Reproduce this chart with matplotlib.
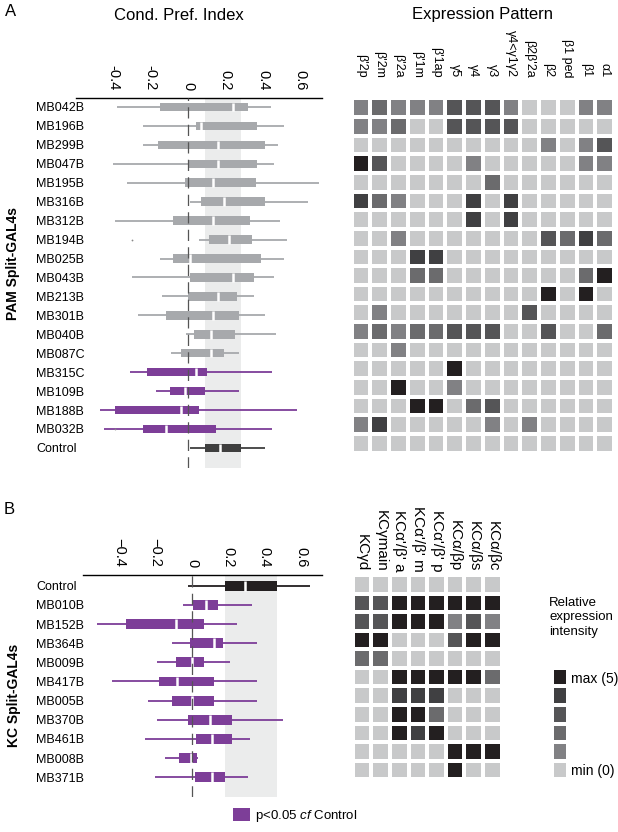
import numpy as np
import matplotlib
matplotlib.use("Agg")
import matplotlib.pyplot as plt
from matplotlib.colors import ListedColormap
from matplotlib.patches import Patch

plt.rcParams['font.family'] = ['Liberation Sans', 'DejaVu Sans']
plt.rcParams['mathtext.fontset'] = 'custom'
plt.rcParams['mathtext.rm'] = 'Liberation Sans'
plt.rcParams['mathtext.it'] = 'Liberation Sans:italic'

# ---- data: panel A (PAM split-GAL4 lines) ----
pam_lines = ["MB042B", "MB196B", "MB299B", "MB047B", "MB195B", "MB316B", "MB312B",
             "MB194B", "MB025B", "MB043B", "MB213B", "MB301B", "MB040B", "MB087C",
             "MB315C", "MB109B", "MB188B", "MB032B", "Control"]
pam_whislo = [-0.38, -0.24, -0.24, -0.40, -0.33, 0.01, -0.39, 0.06, -0.15, -0.30,
              -0.14, -0.27, -0.01, -0.09, -0.31, -0.17, -0.47, -0.45, 0.01]
pam_q1 = [-0.15, 0.04, -0.16, 0.00, -0.02, 0.07, -0.08, 0.11, -0.08, 0.01,
          0.00, -0.12, 0.03, -0.04, -0.22, -0.10, -0.39, -0.24, 0.09]
pam_med = [0.24, 0.07, 0.16, 0.16, 0.13, 0.19, 0.13, 0.22, 0.01, 0.24,
           0.16, 0.13, 0.12, 0.12, 0.04, -0.02, -0.04, -0.12, 0.17]
pam_q3 = [0.32, 0.37, 0.41, 0.37, 0.36, 0.41, 0.33, 0.34, 0.39, 0.35,
          0.26, 0.27, 0.25, 0.19, 0.10, 0.09, 0.06, 0.15, 0.28]
pam_whishi = [0.44, 0.51, 0.48, 0.46, 0.70, 0.64, 0.49, 0.53, 0.51, 0.46,
              0.35, 0.41, 0.47, 0.27, 0.45, 0.27, 0.58, 0.45, 0.41]
pam_fliers = {"MB194B": [-0.30], "MB032B": [-0.39]}
pam_signif = ["MB315C", "MB109B", "MB188B", "MB032B"]

pam_regions = ["β'2p", "β'2m", "β'2a", "β'1m", "β'1ap", "γ5", "γ4", "γ3",
               "γ4<γ1γ2", "β2β'2a", "β2", "β1 ped", "β1", "α1"]
pam_expr = [
    [1, 2, 1, 1, 1, 3, 3, 3, 1, 0, 0, 0, 1, 1],
    [1, 1, 2, 0, 0, 3, 3, 3, 3, 0, 0, 0, 0, 0],
    [0, 0, 0, 0, 0, 0, 0, 0, 0, 0, 1, 0, 1, 3],
    [5, 3, 0, 0, 0, 0, 1, 0, 0, 0, 0, 0, 1, 1],
    [0, 0, 0, 0, 0, 0, 0, 2, 0, 0, 0, 0, 0, 0],
    [4, 2, 1, 0, 0, 0, 4, 0, 4, 0, 0, 0, 0, 0],
    [0, 0, 0, 0, 0, 0, 4, 0, 4, 0, 0, 0, 0, 0],
    [0, 0, 1, 0, 0, 0, 0, 0, 0, 0, 3, 2, 4, 2],
    [0, 0, 0, 4, 4, 0, 0, 0, 0, 0, 0, 0, 0, 0],
    [0, 0, 0, 2, 2, 0, 0, 0, 0, 0, 0, 0, 2, 5],
    [0, 0, 0, 0, 0, 0, 0, 0, 0, 0, 5, 0, 5, 0],
    [0, 1, 0, 0, 0, 0, 0, 0, 0, 3, 0, 0, 0, 0],
    [1, 2, 1, 2, 2, 3, 3, 3, 0, 0, 3, 0, 0, 2],
    [0, 0, 1, 0, 0, 0, 0, 0, 0, 0, 0, 0, 0, 0],
    [0, 0, 0, 0, 0, 5, 0, 0, 0, 0, 0, 0, 0, 0],
    [0, 0, 5, 0, 0, 1, 0, 0, 0, 0, 0, 0, 0, 0],
    [0, 0, 0, 5, 5, 0, 2, 3, 0, 0, 0, 0, 0, 0],
    [1, 4, 0, 0, 0, 0, 0, 1, 0, 1, 0, 0, 0, 0],
    [0, 0, 0, 0, 0, 0, 0, 0, 0, 0, 0, 0, 0, 0],
]

# ---- data: panel B (KC split-GAL4 lines) ----
kc_lines = ["Control", "MB010B", "MB152B", "MB364B", "MB009B", "MB417B",
            "MB005B", "MB370B", "MB461B", "MB008B", "MB371B"]
kc_whislo = [-0.02, -0.05, -0.52, -0.11, -0.19, -0.44, -0.24, -0.19, -0.26, -0.15, -0.20]
kc_q1 = [0.18, 0.005, -0.36, -0.01, -0.09, -0.18, -0.11, -0.02, 0.02, -0.07, 0.015]
kc_med = [0.29, 0.08, -0.09, 0.12, 0.00, -0.08, 0.00, 0.10, 0.11, -0.005, 0.11]
kc_q3 = [0.465, 0.145, 0.066, 0.17, 0.066, 0.12, 0.12, 0.22, 0.22, 0.03, 0.18]
kc_whishi = [0.65, 0.33, 0.25, 0.36, 0.21, 0.36, 0.36, 0.50, 0.32, 0.035, 0.31]
kc_signif = kc_lines[1:]

kc_regions = ["KCγd", "KCγmain", "KCα'/β' a", "KCα'/β' m", "KCα'/β' p",
              "KCα/βp", "KCα/βs", "KCα/βc"]
kc_expr = [
    [0, 0, 0, 0, 0, 0, 0, 0],
    [3, 3, 5, 5, 5, 5, 5, 5],
    [3, 3, 5, 5, 5, 1, 3, 1],
    [5, 5, 0, 0, 0, 3, 5, 5],
    [2, 2, 0, 0, 0, 0, 0, 0],
    [0, 0, 5, 5, 5, 5, 5, 2],
    [0, 0, 4, 4, 4, 0, 0, 0],
    [0, 0, 5, 5, 2, 0, 0, 0],
    [0, 0, 5, 4, 5, 0, 0, 0],
    [0, 0, 0, 0, 0, 5, 5, 5],
    [0, 0, 0, 0, 0, 5, 0, 0],
]

legend_levels = [5, 4, 3, 2, 1, 0]

# ---- styles ----
GRAY = '#a7a9ac'
PURPLE = '#7d3e98'
SHADE = '#ebecec'
level_colors = ['#c8c9ca', '#818184', '#6b6b6d', '#555557', '#404042', '#231f20']
cmap = ListedColormap(level_colors)

W, H = 618, 832
fig = plt.figure(figsize=(W / 100, H / 100), dpi=100)


def px_rect(x0, y0, x1, y1):
    return [x0 / W, 1 - y1 / H, (x1 - x0) / W, (y1 - y0) / H]


def box_panel(ax, names, wlo, q1, med, q3, whi, colors, width, ticklabels,
              fliers, label_x_px, ax_left_px, ylim):
    ax.axvspan(q1[names.index("Control")], q3[names.index("Control")],
               color=SHADE, zorder=0, lw=0)
    for i, n in enumerate(names):
        st = dict(label=n, whislo=wlo[i], q1=q1[i], med=med[i], q3=q3[i],
                  whishi=whi[i], fliers=fliers.get(n, []))
        c = colors[i]
        ax.bxp([st], positions=[i], orientation='horizontal', widths=width,
               patch_artist=True, showcaps=False,
               boxprops=dict(facecolor=c, edgecolor='none', lw=0),
               whiskerprops=dict(color=c, lw=1.3, solid_capstyle='butt'),
               medianprops=dict(color='white', lw=1.8, solid_capstyle='butt'),
               flierprops=dict(marker='o', markersize=1.3, markerfacecolor='#888888',
                               markeredgecolor='none'),
               manage_ticks=False, zorder=2)
    ax.axvline(0, color='#555555', lw=0.9, ls=(0, (9, 5)), zorder=6)
    ax.set_xlim(-0.6, 0.715)
    ax.set_ylim(*ylim)
    ax.xaxis.tick_top()
    ax.set_xticks([-0.4, -0.2, 0, 0.2, 0.4, 0.6])
    ax.set_xticklabels(ticklabels, rotation=270, fontsize=10.5)
    ax.tick_params(axis='x', length=0, pad=5.8)
    ax.set_yticks(range(len(names)))
    ax.set_yticklabels(names, fontsize=9, ha='left')
    ax.tick_params(axis='y', length=0, pad=(ax_left_px - label_x_px) * 0.72)
    for s in ['left', 'right', 'bottom']:
        ax.spines[s].set_visible(False)
    ax.spines['top'].set_linewidth(1.0)
    ax.set_facecolor('none')


def heat_panel(ax, data, regions, fontsize, pad):
    arr = np.array(data)
    ax.pcolormesh(arr, cmap=cmap, vmin=-0.5, vmax=5.5, edgecolors='white', linewidth=1.6)
    ax.set_xlim(0, arr.shape[1])
    ax.set_ylim(arr.shape[0], 0)
    ax.xaxis.tick_top()
    ax.set_xticks(np.arange(arr.shape[1]) + 0.5)
    ax.set_xticklabels(regions, rotation=270, fontsize=fontsize)
    ax.tick_params(axis='x', length=0, pad=pad)
    ax.set_yticks([])
    for s in ax.spines.values():
        s.set_visible(False)


# ---- panel A ----
pam_colors = []
for n in pam_lines:
    if n == "Control":
        pam_colors.append('#3f3f3f')
    elif n in pam_signif:
        pam_colors.append(PURPLE)
    else:
        pam_colors.append(GRAY)

axA = fig.add_axes(px_rect(76, 98, 322, 468))
box_panel(axA, pam_lines, pam_whislo, pam_q1, pam_med, pam_q3, pam_whishi, pam_colors,
          0.45, ['-0.4', '-0.2', '0', '0.2', '0.4', '0.6'], pam_fliers, 36, 76,
          (19.06, -0.475))

axA2 = fig.add_axes(px_rect(351.5, 98.3, 614, 452.7))
heat_panel(axA2, pam_expr, pam_regions, 9, 15)

fig.text(5 / W, 1 - 12 / H, 'A', fontsize=12, va='center', ha='left')
fig.text(179 / W, 1 - 15 / H, 'Cond. Pref. Index', fontsize=12, va='center', ha='center')
fig.text(483 / W, 1 - 15 / H, 'Expression Pattern', fontsize=12, va='center', ha='center')
fig.text(13 / W, 1 - 263 / H, 'PAM Split-GAL4s', fontsize=10, fontweight='bold',
         rotation=90, va='center', ha='center')

# ---- panel B ----
kc_colors = ['#231f20' if n == "Control" else (PURPLE if n in kc_signif else GRAY)
             for n in kc_lines]

axB = fig.add_axes(px_rect(82.7, 575, 322, 797))
box_panel(axB, kc_lines, kc_whislo, kc_q1, kc_med, kc_q3, kc_whishi, kc_colors,
          0.52, ['\u22120.4', '\u22120.2', '0', '0.2', '0.4', '0.6'], {}, 36, 82.7,
          (11.03, -0.56))

axB2 = fig.add_axes(px_rect(352.7, 575, 501.7, 779.3))
heat_panel(axB2, kc_expr, kc_regions, 11, 2.4)

fig.text(4 / W, 1 - 509 / H, 'B', fontsize=12, va='center', ha='left')
fig.text(14 / W, 1 - 695 / H, 'KC Split-GAL4s', fontsize=10, fontweight='bold',
         rotation=90, va='center', ha='center')

# intensity legend
axL = fig.add_axes(px_rect(551.7, 667.7, 568.3, 779.3))
axL.pcolormesh(np.array(legend_levels).reshape(-1, 1), cmap=cmap, vmin=-0.5, vmax=5.5,
               edgecolors='white', linewidth=1.6)
axL.set_ylim(len(legend_levels), 0)
axL.set_xticks([])
axL.yaxis.tick_right()
axL.set_yticks([0.5, len(legend_levels) - 0.5])
axL.set_yticklabels(['max (5)', 'min (0)'], fontsize=10)
axL.tick_params(axis='y', length=0, pad=1.7)
for s in axL.spines.values():
    s.set_visible(False)

fig.text(549 / W, 1 - 597 / H, 'Relative\nexpression\nintensity', fontsize=9.5,
         va='top', ha='left', linespacing=1.25)

# significance legend
fig.legend(handles=[Patch(facecolor=PURPLE, edgecolor='none')],
           labels=[r'p<0.05 $\it{cf}$ Control'], loc='center left',
           bbox_to_anchor=(233 / W, 1 - 816 / H), frameon=False, fontsize=9.5,
           borderpad=0, borderaxespad=0, handlelength=1.3, handleheight=1.15,
           handletextpad=0.4)

fig.savefig('out.png', dpi=100)
